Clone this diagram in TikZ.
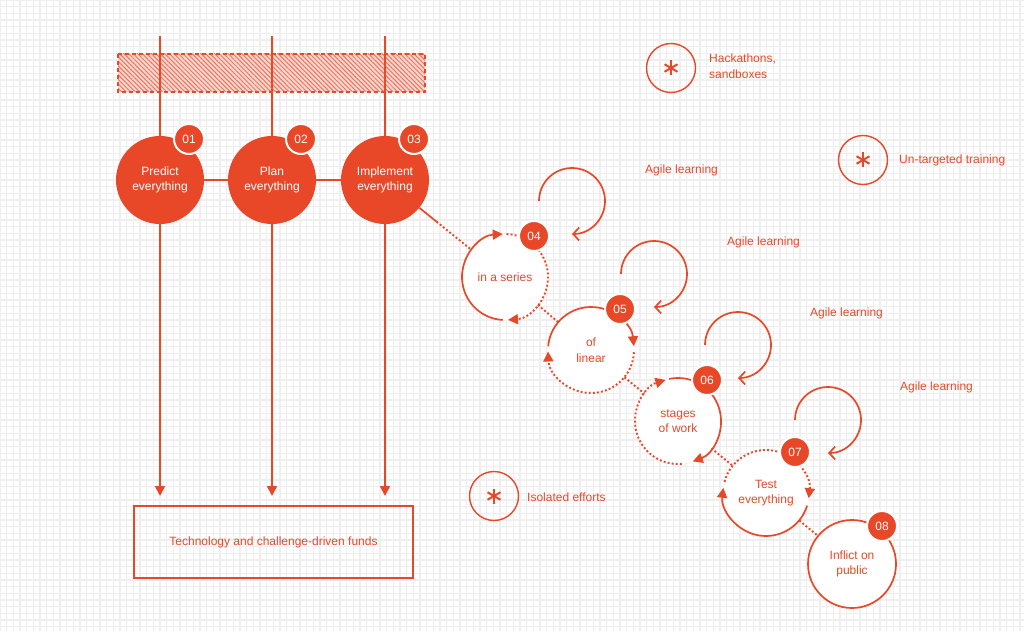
\documentclass[tikz,border=0pt]{standalone}
\usepackage{fontspec}
\setmainfont{Liberation Sans}
\usetikzlibrary{arrows.meta,calc,patterns.meta}
\definecolor{ored}{RGB}{233,72,40}
\definecolor{gridc}{RGB}{239,239,239}
\begin{document}
\begin{tikzpicture}[x=1pt,y=-1pt,
  gridline/.style={draw=gridc,line width=1.3pt},
  bigcirc/.style={circle,fill=ored,text=white,minimum size=88pt,inner sep=0pt,align=center,font=\fontsize{12}{15.5}\selectfont},
  ringcirc/.style={circle,fill=white,text=ored,minimum size=86pt,inner sep=0pt,align=center,font=\fontsize{12}{15.5}\selectfont},
  badge/.style={circle,fill=ored,draw=white,line width=2pt,text=white,minimum size=30pt,inner sep=0pt,font=\fontsize{12}{14}\selectfont},
  redline/.style={draw=ored,line width=1.7pt},
  dotline/.style={draw=ored,line width=1.9pt,dash pattern=on 1.9pt off 2.2pt},
  tri/.style={-{Triangle[length=10pt,width=10pt]}},
  barb/.style={-{Straight Barb[length=6pt,width=13pt]}},
  lbl/.style={text=ored,anchor=west,align=left,inner sep=0pt,font=\fontsize{12}{15.5}\selectfont},
  starcirc/.style={circle,draw=ored,line width=1.4pt,minimum size=49pt,inner sep=0pt},
  boxnode/.style={draw=ored,line width=1.6pt,minimum width=279pt,minimum height=72pt,text=ored,inner sep=0pt,font=\fontsize{12}{15.5}\selectfont},
]
\useasboundingbox (0,0) rectangle (1024,631);
\fill[white] (0,0) rectangle (1024,631);
% background grid
\foreach \i in {0,...,154} \draw[gridline] ({\i*6.6667},0) -- ({\i*6.6667},631);
\foreach \j in {0,...,95} \draw[gridline] (0,{\j*6.6667}) -- (1024,{\j*6.6667});

% hatched band
\path[preaction={fill=ored!22},pattern={Lines[angle=-45,distance=3.2pt,line width=1pt]},pattern color=ored!75] (118,54) rectangle (425,92);
\draw[ored,line width=1.6pt,dash pattern=on 4pt off 3pt] (118,54) rectangle (425,92);

% top coordinates and arrow ends
\coordinate (t1) at (160,36);
\coordinate (t2) at (272,36);
\coordinate (t3) at (385,36);
\coordinate (a1) at (160,496);
\coordinate (a2) at (272,496);
\coordinate (a3) at (385,496);

% first three circles
\node[bigcirc] (c1) at (160,180) {Predict\\everything};
\node[bigcirc] (c2) at (272,180) {Plan\\everything};
\node[bigcirc] (c3) at (385,180) {Implement\\everything};

\draw[redline] (t1) -- (c1);
\draw[redline] (t2) -- (c2);
\draw[redline] (t3) -- (c3);
\draw[redline,tri] (c1) -- (a1);
\draw[redline,tri] (c2) -- (a2);
\draw[redline,tri] (c3) -- (a3);
\draw[redline] (c1) -- (c2);
\draw[redline] (c2) -- (c3);

\node[badge] (b1) at ($(c1)+(29,-41)$) {01};
\node[badge] (b2) at ($(c2)+(29,-41)$) {02};
\node[badge] (b3) at ($(c3)+(29,-41)$) {03};

% funds box
\node[boxnode] (box) at (273.5,542) {Technology and challenge-driven funds};

% chain circles
\node[ringcirc] (c4) at (505,277) {in a series};
\node[ringcirc] (c5) at (591,350) {of\\linear};
\node[ringcirc] (c6) at (678,421) {stages\\of work};
\node[ringcirc] (c7) at (766,493) {Test\\everything};
\node[ringcirc,draw=ored,line width=1.7pt,minimum size=88pt] (c8) at (852,564) {Inflict on\\public};

% connectors between chain circles
\coordinate (m34) at ($(c3)!0.43!(c4)$);
\draw[redline] (c3) -- (m34);
\draw[dotline] (m34) -- (c4);
\draw[dotline] (c4) -- (c5);
\draw[dotline] (c5) -- (c6);
\draw[dotline] (c6) -- (c7);
\draw[dotline] (c7) -- (c8);

% rings
\draw[redline,tri] (c4) ++(93:43) arc[start angle=93,end angle=267,radius=43];
\draw[dotline,tri] (c4) ++(272:43) arc[start angle=272,end angle=446,radius=43];

\draw[redline,tri] (c5) ++(185:43) arc[start angle=185,end angle=355,radius=43];
\draw[dotline,tri] (c5) ++(3:43) arc[start angle=3,end angle=178,radius=43];

\draw[redline,tri] (c6) ++(258:43) arc[start angle=258,end angle=430,radius=43];
\draw[dotline,tri] (c6) ++(85:43) arc[start angle=85,end angle=253,radius=43];

\draw[dotline,tri] (c7) ++(195:43) arc[start angle=195,end angle=367,radius=43];
\draw[redline,tri] (c7) ++(17:43) arc[start angle=17,end angle=187,radius=43];

% badges of chain
\node[badge] (b4) at ($(c4)+(29,-41)$) {04};
\node[badge] (b5) at ($(c5)+(29,-41)$) {05};
\node[badge] (b6) at ($(c6)+(29,-41)$) {06};
\node[badge] (b7) at ($(c7)+(29,-41)$) {07};
\node[badge] (b8) at ($(c8)+(30,-38)$) {08};

% agile learning loops
\coordinate (l4) at (572,201);
\coordinate (l5) at (654,274);
\coordinate (l6) at (738,345);
\coordinate (l7) at (828,420);
\draw[redline,barb] (l4) ++(180:33) arc[start angle=180,end angle=450,radius=33];
\draw[redline,barb] (l5) ++(180:33) arc[start angle=180,end angle=450,radius=33];
\draw[redline,barb] (l6) ++(180:33) arc[start angle=180,end angle=450,radius=33];
\draw[redline,barb] (l7) ++(180:33) arc[start angle=180,end angle=450,radius=33];

\node[lbl] (g4) at (645,170) {Agile learning};
\node[lbl] (g5) at (727,242) {Agile learning};
\node[lbl] (g6) at (810,313) {Agile learning};
\node[lbl] (g7) at (900,387) {Agile learning};

% asterisk circles
\node[starcirc] (s1) at (671,68) {};
\node[starcirc] (s2) at (863,160) {};
\node[starcirc] (s3) at (494,496) {};
\foreach \s in {s1,s2,s3}
  \foreach \a in {90,30,150}
    \draw[ored,line width=2pt] (\s.center) ++(\a:7.5) -- ++({\a+180}:15);

\node[lbl] (h1) at (709,66) {Hackathons,\\sandboxes};
\node[lbl] (u1) at (899,160) {Un-targeted training};
\node[lbl] (i1) at (527,497) {Isolated efforts};
\end{tikzpicture}
\end{document}
